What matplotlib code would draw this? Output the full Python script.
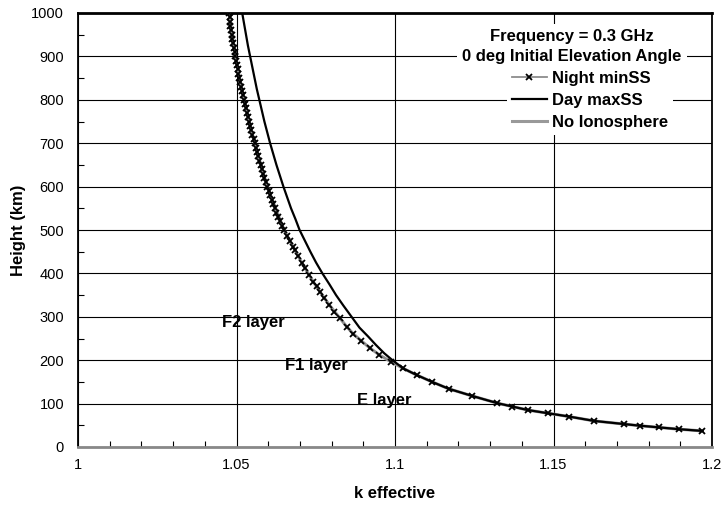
import matplotlib
matplotlib.use("Agg")
import matplotlib.pyplot as plt
from matplotlib.ticker import MultipleLocator, FuncFormatter

plt.rcParams['font.family'] = ['Liberation Sans', 'DejaVu Sans']

# ---- data ----
night_h = [1000, 990, 980, 970, 960, 950, 940, 930, 920, 910, 900, 890, 880, 870, 860, 850,
           840, 830, 820, 810, 800, 790, 780, 770, 760, 750, 740, 730, 720, 710, 700, 690,
           680, 670, 660, 650, 640, 630, 620, 610, 600, 590, 580, 570, 560, 550, 540, 530,
           520, 510, 500, 487, 474, 461, 454, 439, 424, 412, 397, 381, 370, 358, 343, 327,
           312, 297, 277, 261, 245, 228, 212, 197, 181, 166, 150, 134, 118, 101, 93,
           85, 78, 70, 60, 53, 49, 45, 41, 37]
night_k = [1.0476, 1.0478, 1.0480, 1.0481, 1.0483, 1.0485, 1.0487, 1.0489, 1.0491, 1.0494,
           1.0496, 1.0499, 1.0501, 1.0504, 1.0506, 1.0509, 1.0512, 1.0515, 1.0518, 1.0521,
           1.0524, 1.0527, 1.0530, 1.0534, 1.0537, 1.0540, 1.0543, 1.0547, 1.0550, 1.0554,
           1.0557, 1.0561, 1.0565, 1.0568, 1.0572, 1.0576, 1.0580, 1.0584, 1.0588, 1.0593,
           1.0597, 1.0602, 1.0607, 1.0611, 1.0616, 1.0621, 1.0626, 1.0632, 1.0638, 1.0644,
           1.0650, 1.0659, 1.0668, 1.0678, 1.0684, 1.0695, 1.0706, 1.0716, 1.0729, 1.0742,
           1.0753, 1.0763, 1.0777, 1.0793, 1.0808, 1.0826, 1.0848, 1.0868, 1.0893, 1.0921,
           1.0951, 1.0986, 1.1026, 1.1068, 1.1117, 1.1170, 1.1242, 1.1323, 1.1370,
           1.1420, 1.1482, 1.1550, 1.1629, 1.1722, 1.1773, 1.1833, 1.1896, 1.1970]

day_h = [1000, 975, 950, 925, 900, 875, 850, 825, 800, 775, 750, 725, 700, 675, 650, 625,
         600, 575, 550, 525, 500, 475, 450, 425, 400, 375, 350, 325, 300, 275, 254, 235,
         216, 200, 190, 181, 166, 150, 134, 118, 101, 85, 70, 60, 50, 41, 37]
day_k = [1.0518, 1.0524, 1.0530, 1.0536, 1.0543, 1.0550, 1.0557, 1.0564, 1.0572, 1.0580,
         1.0588, 1.0597, 1.0606, 1.0616, 1.0626, 1.0637, 1.0648, 1.0660, 1.0672, 1.0686,
         1.0699, 1.0716, 1.0733, 1.0751, 1.0771, 1.0793, 1.0814, 1.0838, 1.0863, 1.0888,
         1.0916, 1.0940, 1.0966, 1.0992, 1.1010, 1.1026, 1.1068, 1.1117, 1.1170, 1.1242,
         1.1323, 1.1420, 1.1550, 1.1629, 1.1760, 1.1896, 1.1970]

noion_h = [1000, 900, 800, 700, 600, 500, 454, 412, 381, 358, 327, 297, 277, 261, 245, 228,
           212, 197, 181, 166, 150, 134, 118, 101, 85, 70, 60, 49, 41, 37]
noion_k = [1.0476, 1.0496, 1.0524, 1.0557, 1.0597, 1.0650, 1.0684, 1.0716, 1.0742, 1.0763,
           1.0793, 1.0826, 1.0848, 1.0868, 1.0893, 1.0921, 1.0951, 1.0986, 1.1026, 1.1068,
           1.1117, 1.1170, 1.1242, 1.1323, 1.1420, 1.1550, 1.1629, 1.1773, 1.1896, 1.1970]

layer_labels = ["F2 layer", "F1 layer", "E layer"]
layer_k = [1.0454, 1.0653, 1.0880]
layer_h = [286, 187, 108]

title_lines = ["Frequency = 0.3 GHz", "0 deg Initial Elevation Angle"]
series_labels = ["Night minSS", "Day maxSS", "No Ionosphere"]

W, H = 721, 508
BOLD = 12
fig = plt.figure(figsize=(W / 100, H / 100), dpi=100)
ax = fig.add_axes([78 / W, 1 - 447 / H, (712 - 78) / W, (447 - 13) / H])

ax.set_xlim(1.0, 1.2)
ax.set_ylim(0, 1000)
ax.xaxis.set_major_locator(MultipleLocator(0.05))
ax.xaxis.set_minor_locator(MultipleLocator(0.01))
ax.yaxis.set_major_locator(MultipleLocator(100))
ax.yaxis.set_minor_locator(MultipleLocator(50))
ax.xaxis.set_major_formatter(FuncFormatter(lambda v, p: f"{v:g}"))
ax.grid(True, which='major', color='black', linewidth=0.8)
ax.set_axisbelow(True)

ax.tick_params(which='major', length=0, labelsize=10.5, colors='black')
ax.tick_params(axis='y', which='major', pad=10)
ax.tick_params(axis='x', which='major', pad=8)
ax.tick_params(which='minor', direction='in', length=4, width=0.8, color='black')
ax.tick_params(which='minor', top=False, right=False)

for s in ['left', 'right']:
    ax.spines[s].set_linewidth(1.3)
    ax.spines[s].set_color('black')
ax.spines['top'].set_linewidth(2.0)
ax.spines['bottom'].set_linewidth(2.0)
ax.spines['bottom'].set_color('#888888')

l3, = ax.plot(noion_k, noion_h, color='#999999', linewidth=2.2, zorder=3,
              label=series_labels[2])
l1, = ax.plot(night_k, night_h, color='#8c8c8c', linewidth=1.3, marker='x',
              markersize=5, markeredgewidth=1.3, markeredgecolor='black',
              zorder=4, label=series_labels[0])
l2, = ax.plot(day_k, day_h, color='black', linewidth=1.6, zorder=5,
              label=series_labels[1])

for t, k, h in zip(layer_labels, layer_k, layer_h):
    ax.text(k, h, t, ha='left', va='center', fontsize=BOLD, fontweight='bold', zorder=6)

ax.set_xlabel("k effective", fontsize=BOLD, fontweight='bold', labelpad=10)
ax.set_ylabel("Height (km)", fontsize=BOLD, fontweight='bold', labelpad=4)

for i, t in enumerate(title_lines):
    ax.text(572 / W, 1 - (36 + 21 * i) / H, t, ha='center', va='center',
            transform=fig.transFigure, fontsize=BOLD, fontweight='bold', zorder=8,
            bbox=dict(boxstyle='square,pad=0.3', facecolor='white', edgecolor='none'))

leg = ax.legend(handles=[l1, l2, l3], loc='upper right',
                bbox_to_anchor=(673 / W, 1 - 66 / H), bbox_transform=fig.transFigure,
                prop={'weight': 'bold', 'size': BOLD}, frameon=True, fancybox=False,
                framealpha=1, facecolor='white', edgecolor='none',
                handlelength=2.1, handletextpad=0.3, labelspacing=0.42,
                borderpad=0.3, borderaxespad=0, markerscale=0.9)
leg.set_zorder(10)

fig.savefig("out.png", dpi=100)
